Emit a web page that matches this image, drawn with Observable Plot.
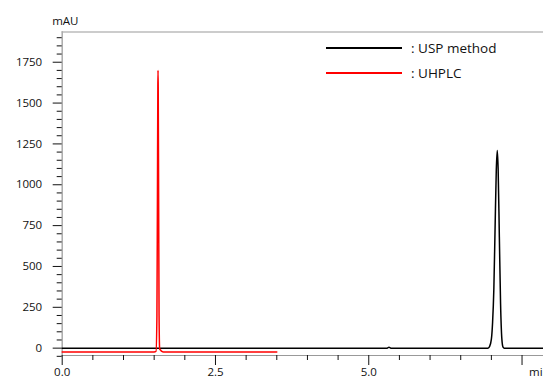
<!DOCTYPE html>
<html><head><meta charset="utf-8">
<script src="https://cdn.jsdelivr.net/npm/d3@7"></script>
<script src="https://cdn.jsdelivr.net/npm/@observablehq/plot@0.6"></script>
<style>
body{margin:0;background:#fff;}
#wrap{position:relative;width:543px;height:378px;overflow:hidden;font-family:"Open Sans",sans-serif;}
#legend{position:absolute;left:326px;top:35px;font-size:13.5px;color:#111;}
.row{display:flex;align-items:center;height:25px;}
.sw{width:76px;height:0;border-top:2px solid;margin-right:9px;}
</style></head><body><div id="wrap"><div id="legend"></div></div>
<script>
// USP method (black) chromatogram, time in min, signal in mAU
const uspTime   = [0, 5.30, 5.33, 5.36, 6.94, 6.97, 7.00, 7.02, 7.04, 7.06, 7.08, 7.096, 7.11, 7.13, 7.15, 7.17, 7.19, 7.21, 7.85];
const uspSignal = [0, 0,    5,    0,    0,    10,   55,   160,  360,  730,  1090, 1210,  1100, 680,  270,  60,   6,    0,    0];
// UHPLC (red) chromatogram
const uhplcTime   = [0,   1.50, 1.53, 1.545, 1.553, 1.560, 1.563, 1.566, 1.573, 1.580, 1.590, 1.605, 1.625, 1.65, 3.5];
const uhplcSignal = [-23, -23,  -20,  200,   900,   1600,  1700,  1600,  900,   200,   -5,    -12,   -20,   -23,  -23];

const seriesNames  = ["USP method", "UHPLC"];
const seriesColors = ["#000000", "#ff0000"];

const yMajorTicks = [0, 250, 500, 750, 1000, 1250, 1500, 1750];
const yMinorTicks = d3.range(-50, 1901, 50).filter(d => d % 250 !== 0);
const xMajorTicks = [0, 2.5, 5.0, 7.5];
const xTickLabels = ["0.0", "2.5", "5.0", ""];
const xMinorTicks = d3.range(0.5, 7.5, 0.5).filter(d => d % 2.5 !== 0);
const xUnit = "min";
const yUnit = "mAU";

const usp = uspTime.map((t, i) => ({t, v: uspSignal[i]}));
const uhplc = uhplcTime.map((t, i) => ({t, v: uhplcSignal[i]}));

const chart = Plot.plot({
  width: 543, height: 378,
  marginLeft: 61.7, marginRight: 0, marginTop: 31.5, marginBottom: 23,
  style: {fontFamily: '"Open Sans", sans-serif', fontSize: "11.5px", color: "#111", background: "#fff"},
  x: {domain: [0, 7.85]},
  y: {domain: [-45, 1935]},
  marks: [
    Plot.frame({anchor: "top", stroke: "#999"}),
    Plot.frame({anchor: "bottom", stroke: "#999"}),
    Plot.frame({anchor: "left", stroke: "#aaa", strokeWidth: 1.5}),
    Plot.axisY(yMinorTicks, {tickSize: 5, tickFormat: () => "", label: null}),
    Plot.axisY(yMajorTicks, {tickSize: 9, tickPadding: 11, tickFormat: d => String(d), label: null}),
    Plot.axisX(xMinorTicks, {tickSize: 5, tickFormat: () => "", label: null}),
    Plot.axisX(xMajorTicks, {tickSize: 10, tickPadding: 2, tickFormat: d => xTickLabels[xMajorTicks.indexOf(d)], label: null}),
    Plot.text([xUnit], {x: () => xMajorTicks[xMajorTicks.length - 1], frameAnchor: "bottom", textAnchor: "start", lineAnchor: "top", dx: 7, dy: 12, text: d => d}),
    Plot.text([yUnit], {frameAnchor: "top-left", textAnchor: "start", lineAnchor: "bottom", dx: -10, dy: -7, text: d => d}),
    Plot.line(usp, {x: "t", y: "v", stroke: seriesColors[0], strokeWidth: 1.5, curve: "monotone-x"}),
    Plot.line(uhplc, {x: "t", y: "v", stroke: seriesColors[1], strokeWidth: 1.5, curve: "monotone-x"})
  ]
});
const wrap = document.getElementById("wrap");
wrap.insertBefore(chart, wrap.firstChild);

const legend = document.getElementById("legend");
seriesNames.forEach((name, i) => {
  const row = document.createElement("div");
  row.className = "row";
  const sw = document.createElement("span");
  sw.className = "sw";
  sw.style.borderTopColor = seriesColors[i];
  const lab = document.createElement("span");
  lab.textContent = ": " + name;
  lab.style.whiteSpace = "pre";
  row.appendChild(sw); row.appendChild(lab);
  legend.appendChild(row);
});
</script>
</body></html>
